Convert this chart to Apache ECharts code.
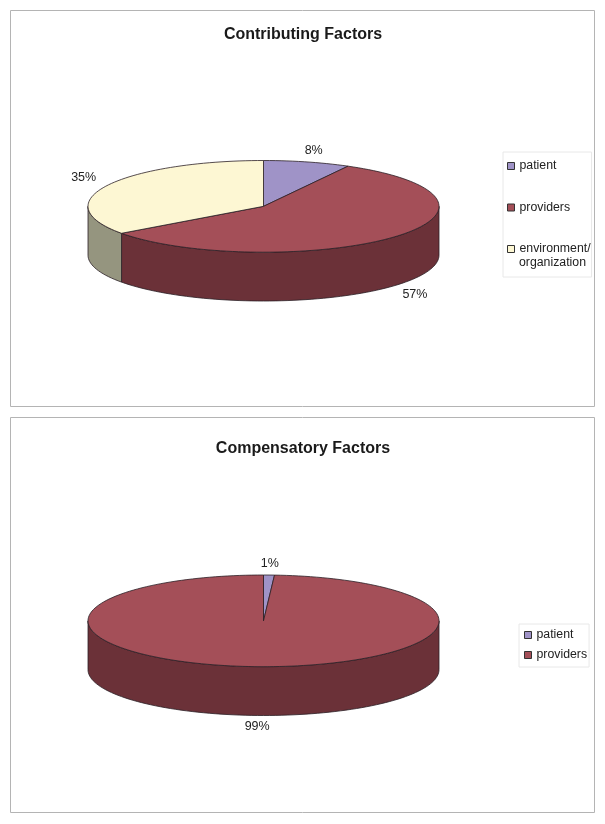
<!DOCTYPE html>
<html><head><meta charset="utf-8">
<style>html,body{margin:0;padding:0;background:#fff}#c{width:605px;height:824px}</style>
<script src="https://cdn.jsdelivr.net/npm/echarts@6/dist/echarts.min.js"></script>
</head><body><div id="c"></div>
<script>
const titles = ['Contributing Factors', 'Compensatory Factors'];
const categories1 = ['patient', 'providers', 'environment/organization'];
const values1 = [8, 57, 35];
const categories2 = ['patient', 'providers'];
const values2 = [1, 99];

const TOP = {patient:'#9F93C7', providers:'#A44F58', env:'#FDF7D3'};
const SIDE = {patient:'#6A6285', providers:'#6B3138', env:'#95957F'};
const key = n => n.startsWith('env') ? 'env' : n;
const OUT = '#2b2026';
const FONT = '"Liberation Sans", Arial, sans-serif';
const DEPTH = 1.065; // wall height in units of the ellipse's vertical radius

function arc(a0, a1, yOff, api) {
  const n = Math.max(2, Math.ceil(Math.abs(a1 - a0) / 2));
  const pts = [];
  for (let i = 0; i <= n; i++) {
    const a = (a0 + (a1 - a0) * i / n) * Math.PI / 180;
    pts.push(api.coord([Math.sin(a), Math.cos(a) + yOff]));
  }
  return pts;
}

function slice(name, value, start, total, gridIndex) {
  const k = key(name);
  return {
    type: 'custom', name, xAxisIndex: gridIndex, yAxisIndex: gridIndex,
    coordinateSystem: 'cartesian2d', clip: false, silent: true,
    z: 2,
    itemStyle: {color: TOP[k]},
    encode: {x: 0, y: 1},
    data: [[start, start + value, value]],
    renderItem(params, api) {
      const a0 = api.value(0) / total * 360, a1 = api.value(1) / total * 360;
      const val = api.value(2);
      const children = [];
      // visible front wall: the part of the slice between 90deg and 270deg
      const f0 = Math.max(a0, 90), f1 = Math.min(a1, 270);
      if (f1 > f0) {
        const up = arc(f0, f1, 0, api), down = arc(f1, f0, -DEPTH, api);
        children.push({type:'polygon', z2:1, shape:{points: up.concat(down)},
          style:{fill: SIDE[k], stroke: OUT, lineWidth: 0.8}});
      }
      const c = api.coord([0, 0]);
      children.push({type:'polygon', z2:2, shape:{points: [c].concat(arc(a0, a1, 0, api))},
        style:{fill: TOP[k], stroke: OUT, lineWidth: 0.8}});
      // percentage label outside the rim
      const m = (a0 + a1) / 2 * Math.PI / 180;
      const s = Math.sin(m), co = Math.cos(m);
      const lp = api.coord([s * 1.15, co * 1.13 + (co < 0 ? -0.12 - DEPTH : 0.12)]);
      children.push({type:'text', z2:3, x: lp[0], y: lp[1],
        style:{text: val + '%', fill:'#222', font:'12.5px ' + FONT, align:'center', verticalAlign:'middle'}});
      return {type:'group', children};
    }
  };
}

function build(cats, vals, g) {
  const total = vals.reduce((a, b) => a + b, 0);
  let st = 0;
  return cats.map(function (n, i) { const s = slice(n, vals[i], st, total, g); st += vals[i]; return s; });
}

const panel = (y, h) => ({type:'rect', z:-1, silent:true, shape:{x:10.5, y, width:584, height:h},
  style:{fill:'#fff', stroke:'#b4b4b4', lineWidth:1}});

const legendBase = {
  orient:'vertical', icon:'rect', itemWidth:7, itemHeight:7, selectedMode:false,
  borderColor:'#e8e8e8', borderWidth:1, backgroundColor:'#fff',
  itemStyle:{borderColor:'#333', borderWidth:1},
  textStyle:{fontFamily:FONT, fontSize:12.3, color:'#222'}
};

const chart = echarts.init(document.getElementById('c'), null, {renderer:'canvas'});
chart.setOption({
  animation:false,
  backgroundColor:'#fff',
  title:[
    {text:titles[0], left:298, top:22, textAlign:'center', textStyle:{fontFamily:FONT, fontSize:16, fontWeight:'bold', color:'#1a1a1a'}},
    {text:titles[1], left:298, top:436, textAlign:'center', textStyle:{fontFamily:FONT, fontSize:16, fontWeight:'bold', color:'#1a1a1a'}}
  ],
  grid:[
    {left:88, width:351, top:160.5, height:140.5, show:false},
    {left:88, width:351, top:575, height:140.5, show:false}
  ],
  xAxis:[0,1].map(i => ({type:'value', gridIndex:i, min:-1, max:1, show:false})),
  yAxis:[0,1].map(i => ({type:'value', gridIndex:i, min:-1-DEPTH, max:1, show:false})),
  legend:[
    Object.assign({}, legendBase, {data:categories1, left:503, top:152, padding:[8,1,22,4], itemGap:29.5,
      formatter:n => n.startsWith('environment') ? 'environment/' : n}),
    Object.assign({}, legendBase, {data:categories2, left:519, top:624, padding:[5,2,6,5], itemGap:8})
  ],
  graphic:[
    panel(10.5, 396),
    panel(417.5, 395),
    {type:'text', z:10, silent:true, x:519, y:263, style:{text:'organization', fill:'#222', font:'12.3px ' + FONT, verticalAlign:'middle'}}
  ],
  series: build(categories1, values1, 0).concat(build(categories2, values2, 1))
});
</script></body></html>
